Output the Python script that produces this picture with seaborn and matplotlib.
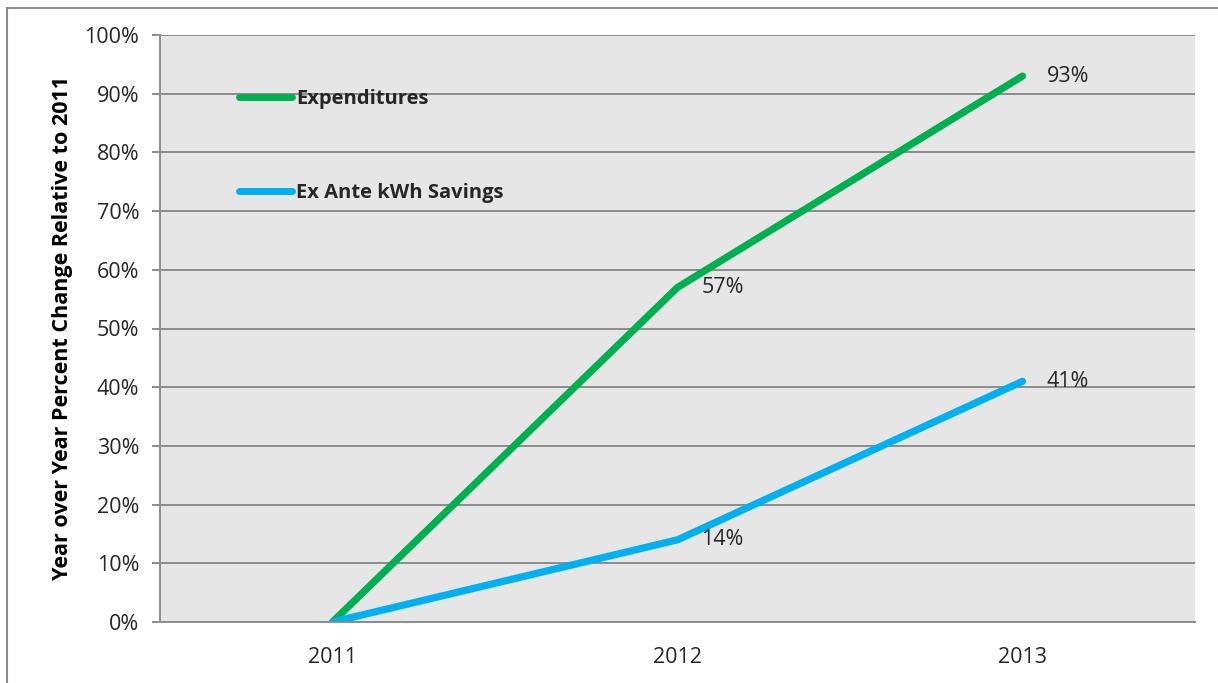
import matplotlib
matplotlib.use("Agg")
import matplotlib.pyplot as plt
from matplotlib.patches import Rectangle
from matplotlib.ticker import FixedLocator, PercentFormatter
import seaborn as sns
import pandas as pd

years = ["2011", "2012", "2013"]
expenditures = [0, 57, 93]
savings = [0, 14, 41]
series_names = ["Expenditures", "Ex Ante kWh Savings"]
series_colors = ["#00b050", "#00b0f0"]
y_ticks = [0, 10, 20, 30, 40, 50, 60, 70, 80, 90, 100]

sns.set_style("white")
plt.rcParams["font.family"] = ["Open Sans", "DejaVu Sans"]

FS = 15.5
TEXT = "#262626"

df = pd.DataFrame({
    "year": list(range(len(years))) * 2,
    "value": expenditures + savings,
    "series": [series_names[0]] * len(years) + [series_names[1]] * len(years),
})

fig = plt.figure(figsize=(12.18, 6.83), dpi=100)
ax = fig.add_axes([160 / 1218, 61 / 683, 1035 / 1218, 587 / 683])
ax.set_facecolor("#e6e6e6")

sns.lineplot(data=df, x="year", y="value", hue="series", hue_order=series_names,
             palette=series_colors, linewidth=5.2, sort=False, ax=ax,
             solid_capstyle="round", solid_joinstyle="round")

ax.set_xlim(-0.5, len(years) - 0.5)
ax.set_ylim(0, 100)

# grid and axes styling
ax.yaxis.set_major_locator(FixedLocator(y_ticks))
ax.yaxis.set_major_formatter(PercentFormatter(decimals=0))
ax.grid(axis="y", color="#8c8c8c", linewidth=1.4)
ax.grid(axis="x", visible=False)
ax.set_axisbelow(True)
for side in ["top", "right"]:
    ax.spines[side].set_visible(False)
for side in ["left", "bottom"]:
    ax.spines[side].set_color("#8c8c8c")
    ax.spines[side].set_linewidth(1.4)

ax.set_xticks(range(len(years)))
ax.set_xticklabels(years)
ax.set_xticks([i - 0.5 for i in range(len(years) + 1)], minor=True)
ax.tick_params(axis="x", which="major", length=0, pad=18, labelsize=FS, labelcolor=TEXT)
ax.tick_params(axis="x", which="minor", length=6, width=1.4, color="#8c8c8c", direction="out")
ax.tick_params(axis="y", length=6, width=1.4, color="#8c8c8c", direction="out", pad=9,
               labelsize=FS, labelcolor=TEXT, left=True)

ax.set_xlabel("")
ax.set_ylabel("Year over Year Percent Change Relative to 2011", fontsize=15.5,
              fontweight="bold", color="black")
ax.yaxis.set_label_coords(-0.084, 0.5)

# value labels beside each point after the first year
for vals in (expenditures, savings):
    for i in range(1, len(years)):
        ax.annotate(f"{vals[i]}%", (i, vals[i]), xytext=(24, 0), textcoords="offset pixels",
                    ha="left", va="center", fontsize=FS, color=TEXT)

leg = ax.legend(loc="upper left", bbox_to_anchor=(0.067, 0.925), frameon=False,
                borderpad=0, handlelength=2.6, handletextpad=0.2, labelspacing=3.65,
                prop={"size": 14.5, "weight": "bold"})
for t in leg.get_texts():
    t.set_color(TEXT)
for h in leg.get_lines():
    h.set_linewidth(5)
    h.set_solid_capstyle("round")

# outer chart frame
fig.patches.append(Rectangle((7 / 1218, -0.1), 1.2, 0.1 + (683 - 8) / 683,
                             transform=fig.transFigure, fill=False,
                             edgecolor="#8c8c8c", linewidth=1.5))

fig.savefig("out.png", dpi=100)
